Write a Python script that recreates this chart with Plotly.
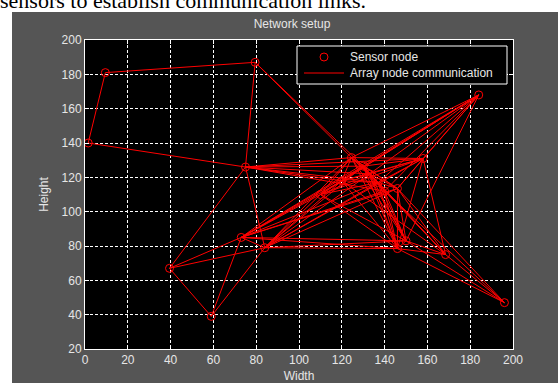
import plotly.graph_objects as go

# Sensor node positions (width, height)
node_x = [1.5, 9.5, 79.5, 75, 39.5, 59, 73, 84, 124.5, 130, 158, 184,
          146, 137, 140, 110, 120, 146, 150, 168.5, 196, 133]
node_y = [140, 181, 187, 126, 67, 39, 85, 79, 131.5, 126.5, 131, 168,
          113.5, 117, 112, 110, 118, 78.5, 83, 75, 47, 122]

# Communication links between nodes (index pairs)
link_from = [0, 0, 1, 2, 2, 2, 3, 3, 3, 3, 3, 3, 3, 3, 3,
             4, 4, 4, 5, 5, 6, 6, 6, 6, 6, 6, 6, 6, 6, 6,
             7, 7, 7, 7, 7, 7, 7, 7, 7, 7,
             8, 8, 8, 8, 8, 8, 8, 8, 8, 8, 8,
             9, 9, 9, 9, 9, 9, 9, 9, 9,
             10, 10, 10, 10, 10, 10, 10, 10,
             11, 11, 11, 11, 11, 11, 11, 11,
             12, 12, 12, 12, 12, 13, 13, 13, 13, 13, 13,
             14, 14, 14, 14, 15, 15, 15, 15, 16, 16, 16,
             17, 17, 17, 18, 18, 19, 21, 21, 21, 21]
link_to = [1, 3, 2, 3, 8, 9, 4, 7, 8, 9, 10, 13, 14, 16, 21,
           5, 6, 7, 6, 7, 7, 8, 9, 13, 14, 15, 16, 17, 18, 12,
           8, 9, 13, 15, 16, 17, 18, 12, 10, 21,
           9, 10, 11, 12, 13, 14, 15, 16, 17, 18, 21,
           10, 11, 12, 13, 14, 17, 18, 19, 15,
           11, 12, 13, 15, 16, 17, 19, 21,
           12, 13, 14, 15, 16, 21, 18, 6,
           13, 17, 18, 19, 20, 14, 15, 17, 18, 19, 16,
           17, 18, 19, 20, 16, 17, 18, 21, 17, 19, 21,
           18, 19, 20, 19, 20, 20, 14, 17, 18, 12]

x_ticks = [0, 20, 40, 60, 80, 100, 120, 140, 160, 180, 200]
y_ticks = [20, 40, 60, 80, 100, 120, 140, 160, 180, 200]

legend_labels = ["Sensor node", "Array node communication"]

# Build the link polyline with gaps between segments
lx, ly = [], []
for a, b in zip(link_from, link_to):
    lx += [node_x[a], node_x[b], None]
    ly += [node_y[a], node_y[b], None]

RED = "#ff0000"
BG = "#555555"
TXT = "#e6e6e6"
FONT = "Liberation Sans, Arial, sans-serif"

fig = go.Figure()
fig.add_trace(go.Scatter(
    x=lx, y=ly, mode="lines", name=legend_labels[1],
    line=dict(color=RED, width=1), hoverinfo="skip", showlegend=False))
fig.add_trace(go.Scatter(
    x=node_x, y=node_y, mode="markers", name=legend_labels[0],
    marker=dict(symbol="circle-open", size=8, color=RED,
                line=dict(color=RED, width=1)), showlegend=False))

axis_common = dict(
    showgrid=True, gridcolor="#ffffff", gridwidth=1, griddash="3px,2px",
    zeroline=False, showline=True, linecolor="#ffffff", linewidth=1,
    mirror="all", ticks="inside", ticklen=4, tickcolor="#ffffff",
    tickfont=dict(family=FONT, size=12, color=TXT), automargin=False,
)

fig.update_xaxes(range=[0, 200], tickvals=x_ticks,
                 title=dict(text="Width", font=dict(family=FONT, size=12, color=TXT),
                            standoff=8),
                 **axis_common)
fig.update_yaxes(range=[20, 200], tickvals=y_ticks,
                 title=dict(text="Height", font=dict(family=FONT, size=12, color=TXT),
                            standoff=10),
                 **axis_common)

L, R, T, B = 85, 45, 40, 34
W, H = 558, 383
pw, ph = W - L - R, H - T - B


def px_x(p):
    return (p - L) / pw


def px_y(p):
    return 1 + (T - p) / ph


def rect(x0, y0, x1, y1, **kw):
    return dict(type="rect", xref="paper", yref="paper", layer="above",
                x0=px_x(x0), x1=px_x(x1), y0=px_y(y1), y1=px_y(y0), **kw)


# Legend box drawn inside the axes, top right
lg_x0, lg_y0, lg_x1, lg_y1 = 297, 46, 507, 84
row1, row2 = 57, 73

shapes = [
    # white page strips around the figure
    rect(0, 0, W, 12, fillcolor="#ffffff", line=dict(width=0)),
    rect(0, 0, 12, H, fillcolor="#ffffff", line=dict(width=0)),
    # legend frame
    rect(lg_x0, lg_y0, lg_x1, lg_y1, fillcolor="#000000",
         line=dict(color="#ffffff", width=1)),
    # legend samples
    dict(type="circle", xref="paper", yref="paper", layer="above",
         x0=px_x(320), x1=px_x(328), y0=px_y(row1 + 4), y1=px_y(row1 - 4),
         line=dict(color=RED, width=1)),
    dict(type="line", xref="paper", yref="paper", layer="above",
         x0=px_x(304), x1=px_x(344), y0=px_y(row2), y1=px_y(row2),
         line=dict(color=RED, width=1)),
]

annotations = [
    dict(text="sensors to establish communication links.", xref="paper",
         yref="paper", x=px_x(-2), y=px_y(15), xanchor="left",
         yanchor="bottom", showarrow=False,
         font=dict(family="Liberation Serif, Times New Roman, serif",
                   size=22, color="#000000")),
]
for label, row in zip(legend_labels, [row1, row2]):
    annotations.append(dict(
        text=label, xref="paper", yref="paper", x=px_x(348), y=px_y(row),
        xanchor="left", yanchor="middle", showarrow=False,
        font=dict(family=FONT, size=12, color=TXT)))

fig.update_layout(
    width=W, height=H,
    margin=dict(l=L, r=R, t=T, b=B, pad=0, autoexpand=False),
    paper_bgcolor=BG, plot_bgcolor="#000000",
    title=dict(text="Network setup", x=292 / W, xanchor="center",
               y=1 - 24 / H, yanchor="middle",
               font=dict(family=FONT, size=12, color=TXT)),
    showlegend=False,
    shapes=shapes,
    annotations=annotations,
)

fig.write_html("out.html")
